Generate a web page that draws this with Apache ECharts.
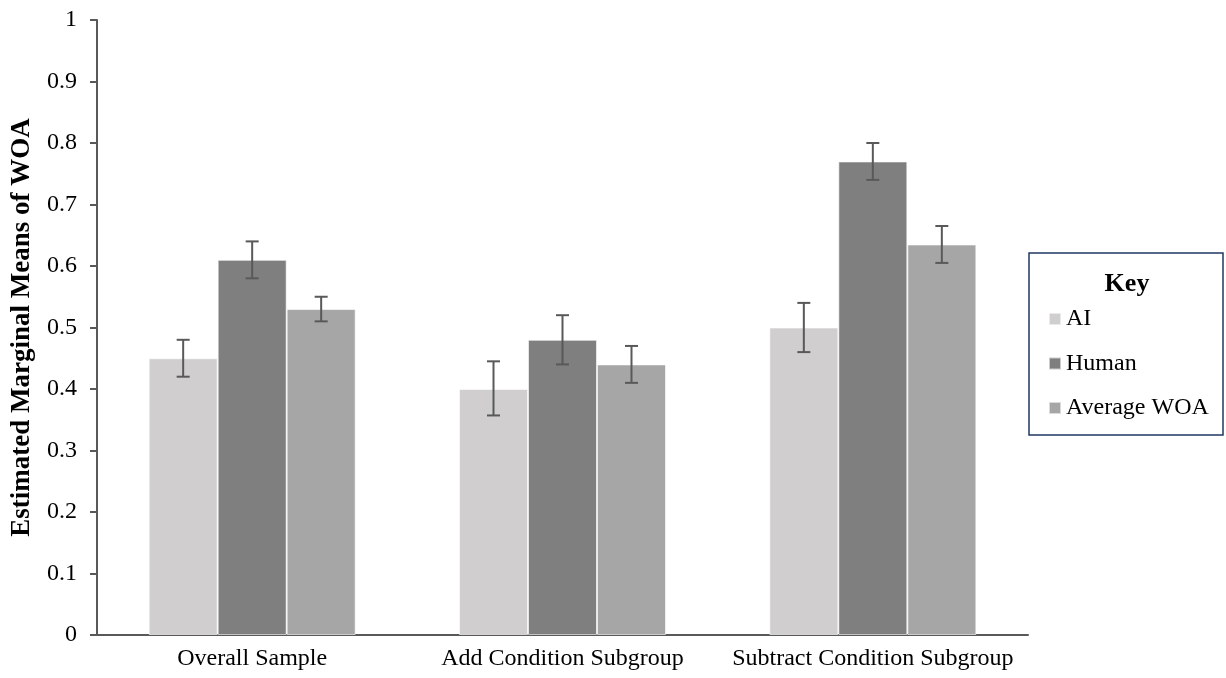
<!DOCTYPE html>
<html>
<head>
<meta charset="utf-8">
<script src="https://cdn.jsdelivr.net/npm/echarts@6/dist/echarts.min.js"></script>
<style>html,body{margin:0;padding:0;background:#fff;}#c{width:1226px;height:678px;}</style>
</head>
<body>
<div id="c"></div>
<script>
const categories = ['Overall Sample', 'Add Condition Subgroup', 'Subtract Condition Subgroup'];
const seriesNames = ['AI', 'Human', 'Average WOA'];
const aiValues = [0.45, 0.40, 0.50];
const humanValues = [0.61, 0.48, 0.77];
const avgValues = [0.53, 0.44, 0.635];
const aiLow = [0.42, 0.357, 0.46];
const aiHigh = [0.48, 0.445, 0.54];
const humanLow = [0.58, 0.44, 0.74];
const humanHigh = [0.64, 0.52, 0.80];
const avgLow = [0.51, 0.41, 0.605];
const avgHigh = [0.55, 0.47, 0.665];
const yTicks = [0, 0.1, 0.2, 0.3, 0.4, 0.5, 0.6, 0.7, 0.8, 0.9, 1];

const colors = ['#d0cecf', '#7f7f7f', '#a6a6a6'];
const values = [aiValues, humanValues, avgValues];
const lows = [aiLow, humanLow, avgLow];
const highs = [aiHigh, humanHigh, avgHigh];
const CAT_GAP = 0.333;
const FONT = '"Liberation Serif", "Times New Roman", serif';

const chart = echarts.init(document.getElementById('c'));

const barSeries = seriesNames.map((name, i) => ({
  name: name,
  type: 'bar',
  data: values[i],
  barGap: '0%',
  barCategoryGap: '33.3%',
  itemStyle: { color: colors[i], borderColor: 'rgba(255,255,255,0.6)', borderWidth: 1 },
  emphasis: { disabled: true },
  z: 2
}));

const errSeries = seriesNames.map((name, i) => ({
  type: 'custom',
  name: name + ' error',
  data: categories.map((c, k) => [k, lows[i][k], highs[i][k]]),
  z: 5,
  silent: true,
  renderItem: function (params, api) {
    const k = api.value(0);
    const band = api.size([1, 0])[0];
    const bw = band * (1 - CAT_GAP) / 3;
    const lo = api.coord([k, api.value(1)]);
    const hi = api.coord([k, api.value(2)]);
    const x = lo[0] + (i - 1) * bw;
    const cap = 6.5;
    const style = { stroke: '#595959', lineWidth: 2 };
    return {
      type: 'group',
      children: [
        { type: 'line', shape: { x1: x, y1: lo[1], x2: x, y2: hi[1] }, style: style },
        { type: 'line', shape: { x1: x - cap, y1: lo[1], x2: x + cap, y2: lo[1] }, style: style },
        { type: 'line', shape: { x1: x - cap, y1: hi[1], x2: x + cap, y2: hi[1] }, style: style }
      ]
    };
  }
}));

chart.setOption({
  animation: false,
  backgroundColor: '#fff',
  textStyle: { fontFamily: FONT },
  grid: { left: 97, right: 198, top: 20, bottom: 43, containLabel: false },
  title: {
    text: 'Key',
    left: 1122,
    top: 266,
    textAlign: 'center',
    textStyle: { fontFamily: FONT, fontWeight: 'bold', fontSize: 26, color: '#000' }
  },
  legend: {
    data: seriesNames,
    orient: 'vertical',
    left: 1048,
    top: 307,
    padding: 0,
    itemWidth: 12,
    itemHeight: 12,
    itemGap: 20.5,
    icon: 'rect',
    textStyle: { fontFamily: FONT, fontSize: 24, color: '#000', lineHeight: 24 },
    selectedMode: false
  },
  graphic: [{
    type: 'rect',
    shape: { x: 1029, y: 253, width: 194, height: 182 },
    style: { fill: 'none', stroke: '#1f3864', lineWidth: 1.5 },
    z: 0
  }],
  xAxis: {
    type: 'category',
    data: categories,
    axisLine: { show: true, lineStyle: { color: '#595959', width: 2 } },
    axisTick: { show: false },
    axisLabel: { fontFamily: FONT, fontSize: 24, color: '#000', margin: 12, interval: 0 }
  },
  yAxis: {
    type: 'value',
    min: 0,
    max: 1,
    interval: 0.1,
    name: 'Estimated Marginal Means of WOA',
    nameLocation: 'middle',
    nameGap: 61,
    nameTextStyle: { fontFamily: FONT, fontWeight: 'bold', fontSize: 27, color: '#000' },
    axisLine: { show: true, lineStyle: { color: '#595959', width: 2 } },
    axisTick: { show: true, length: 7, lineStyle: { color: '#595959', width: 2 } },
    splitLine: { show: false },
    axisLabel: {
      fontFamily: FONT, fontSize: 24, color: '#000', margin: 20,
      formatter: function (v) { const t = yTicks.find(x => Math.abs(x - v) < 1e-9); return t === undefined ? '' : String(t); }
    }
  },
  series: barSeries.concat(errSeries)
});
</script>
</body>
</html>
